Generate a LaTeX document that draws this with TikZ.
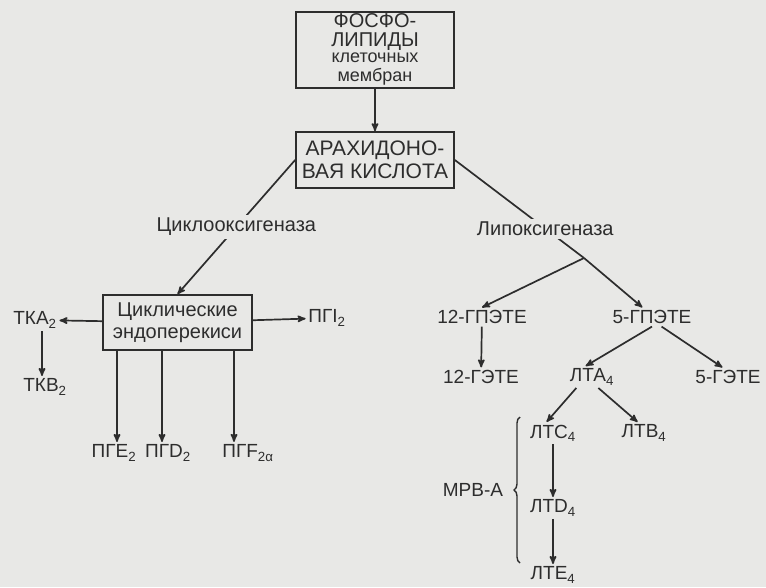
\documentclass[tikz,border=0pt]{standalone}
\usepackage{fontspec}
\setmainfont{Liberation Sans}
\usepackage{tikz}
\usetikzlibrary{arrows,positioning}
\usetikzlibrary{decorations.pathreplacing}
\definecolor{scan}{RGB}{232,232,230}
\definecolor{ink}{RGB}{45,45,45}
\newcommand{\lc}[1]{{\fontsize{18}{18}\selectfont #1}}

\begin{document}
\begin{tikzpicture}[x=1pt,y=-1pt,>=stealth',color=ink,line width=1.7pt,
  box/.style={draw=ink,line width=1.7pt,align=center,inner sep=2pt},
  lbl/.style={inner sep=2pt,font=\fontsize{19}{21}\selectfont},
  enz/.style={fill=scan,inner sep=3pt,font=\fontsize{20}{22}\selectfont}]
\fill[scan] (0,0) rectangle (766,587);
\useasboundingbox (0,0) rectangle (766,587);
% boxes
\node (fosfo) [box,minimum width=158pt,minimum height=76pt,inner sep=0pt] at (375,50)
  {\fontsize{20}{19}\selectfont\renewcommand{\arraystretch}{0.86}%
   \begin{tabular}{@{}c@{}}ФОСФО-\\ЛИПИДЫ\\\lc{клеточных}\\\lc{мембран}\end{tabular}};
\node (arach) [box,minimum width=158pt,minimum height=56pt,font=\fontsize{21}{23}\selectfont] at (375,160)
  {АРАХИДОНО-\\ВАЯ КИСЛОТА};
\node (endo) [box,minimum width=149pt,minimum height=55pt,font=\fontsize{20}{22}\selectfont] at (177.5,322.5)
  {Циклические\\эндоперекиси};
% products
\node (tka) [lbl] at (35,320) {ТКА\textsubscript{2}};
\node (tkb) [lbl] at (45,387) {ТКВ\textsubscript{2}};
\node (pgi) [lbl] at (327,318) {ПГI\textsubscript{2}};
\node (pge) [lbl] at (114,453) {ПГЕ\textsubscript{2}};
\node (pgd) [lbl] at (168,453) {ПГD\textsubscript{2}};
\node (pgf) [lbl] at (248,453) {ПГF\textsubscript{2α}};
\node (gpete12) [lbl] at (482,317) {12-ГПЭТЕ};
\node (gete12) [lbl] at (481,377) {12-ГЭТЕ};
\node (gpete5) [lbl] at (652,317) {5-ГПЭТЕ};
\node (gete5) [lbl] at (728,377) {5-ГЭТЕ};
\node (lta) [lbl] at (592,377) {ЛТА\textsubscript{4}};
\node (ltc) [lbl] at (553,433) {ЛТС\textsubscript{4}};
\node (ltb) [lbl] at (644,433) {ЛТВ\textsubscript{4}};
\node (ltd) [lbl] at (553,508) {ЛТD\textsubscript{4}};
\node (lte) [lbl] at (553,575) {ЛТЕ\textsubscript{4}};
\coordinate (fork) at (584,258);
\coordinate (bracetop) at (520,417);
\coordinate (bracebot) at (520,563);
\node (mrv) [lbl] at (473,490) {МРВ-А};
%
\draw[->] (fosfo) -- (arach);
\draw[->] (arach.west) -- node (cox) [enz] {Циклооксигеназа} (endo.north);
\draw (arach.east) -- node (lox) [enz,pos=0.7] {Липоксигеназа} (fork);
\draw[->] (fork) -- (gpete12.north);
\draw[->] (fork) -- (gpete5.135);
\draw[->] (endo) -- (tka);
\draw[->] (endo) -- (pgi);
\draw[->] (42,0 |- tka.south) -- (42,0 |- tkb.north);
\foreach \x/\n in {117/pge,162/pgd,234/pgf}
  \draw[->] (\x,0 |- endo.south) -- (\x,0 |- \n.north);
\draw[->] (gpete12) -- (gete12);
\draw[->] (gpete5.south) -- (lta.120);
\draw[->] (gpete5.-45) -- (gete5.120);
\draw[->] (lta.-145) -- (ltc.120);
\draw[->] (lta.-60) -- (ltb.120);
\draw[->] (ltc) -- (ltd);
\draw[->] (ltd) -- (lte);
\draw[line width=1.4pt,decorate,decoration={brace,amplitude=6pt}] (bracebot) -- (bracetop);
\end{tikzpicture}
\end{document}
